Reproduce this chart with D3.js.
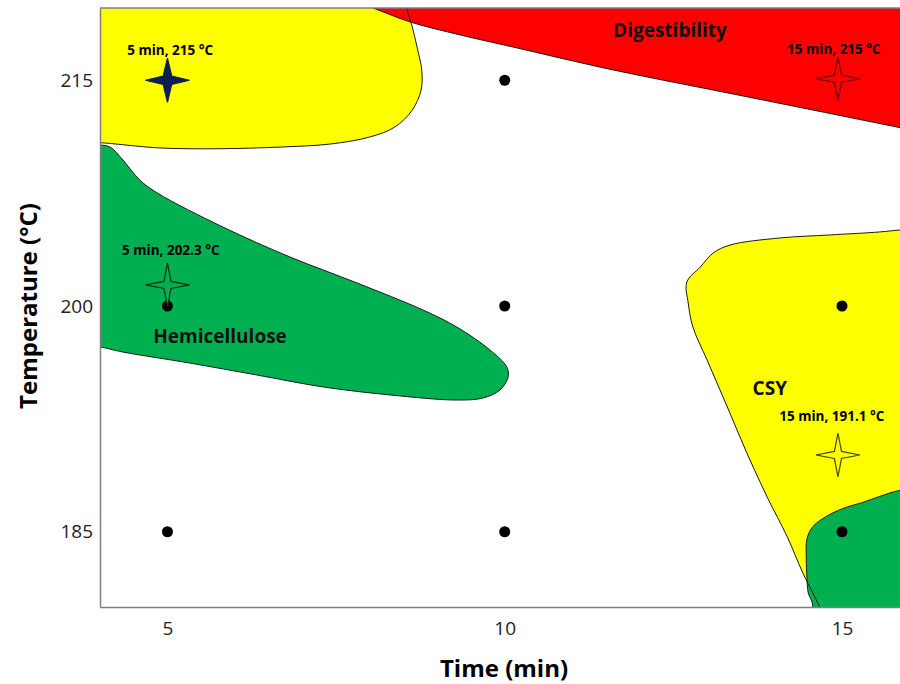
<!DOCTYPE html>
<html>
<head>
<meta charset="utf-8">
<script src="https://cdn.jsdelivr.net/npm/d3@7"></script>
<style>
  html, body { margin: 0; padding: 0; background: #fff; }
  svg { display: block; font-family: "Open Sans", "DejaVu Sans", sans-serif; }
</style>
</head>
<body>
<svg id="chart" width="900" height="684"></svg>
<script>
// ---------------- DATA ----------------
const xTicks = [5, 10, 15];
const yTicks = [185, 200, 215];
const xLabel = "Time (min)";
const yLabel = "Temperature (°C)";

// experimental design points [time, temperature]
const designPoints = [
  [10, 215], [5, 200], [10, 200], [15, 200], [5, 185], [10, 185], [15, 185]
];

// region outlines (time, temperature); points beyond the plot frame are clipped
const regionYellowTop = [
  [3.85, 221.0], [8.55, 221.0], [8.55, 219.8], [8.63, 218.54], [8.71, 217.01], [8.77, 215.68],
  [8.76, 214.35], [8.63, 213.02], [8.37, 211.89], [8.00, 211.23], [7.41, 210.76], [6.67, 210.56],
  [5.78, 210.45], [4.89, 210.50], [4.0, 210.85], [3.85, 210.85]
];
const regionDigestibility = [
  [7.34, 221.0], [8.05, 219.8], [8.60, 218.87], [9.34, 218.01], [10.12, 217.21], [11.61, 215.68],
  [13.09, 214.35], [14.57, 213.02], [15.86, 211.85], [16.30, 211.45], [16.30, 221.0]
];
const regionHemicellulose = [
  [3.85, 210.70], [4.0, 210.70], [4.15, 210.56], [4.34, 209.70], [4.59, 208.37], [4.85, 207.51],
  [5.82, 205.25], [6.82, 203.25], [7.81, 201.53], [8.79, 199.73], [9.29, 198.60], [9.78, 197.08],
  [10.03, 195.95], [10.05, 195.28], [9.93, 194.42], [9.68, 193.89], [9.29, 193.75], [8.30, 194.09],
  [7.31, 194.62], [6.33, 195.41], [5.33, 196.21], [4.34, 196.94], [4.0, 197.27], [3.85, 197.27]
];
const regionCSY = [
  [16.30, 205.18], [15.86, 205.05], [15.56, 204.92], [14.82, 204.72], [14.08, 204.52], [13.34, 204.05],
  [13.09, 203.52], [12.90, 202.59], [12.70, 201.59], [12.72, 200.20], [12.79, 198.60], [13.00, 196.41],
  [13.30, 193.29], [13.59, 190.23], [13.89, 187.31], [14.19, 184.65], [14.42, 182.26], [14.67, 180.0],
  [14.82, 178.47], [16.30, 178.47]
];
const regionGreenLow = [
  [16.30, 187.90], [15.86, 187.75], [15.56, 187.35], [15.31, 186.95], [15.08, 186.65], [14.82, 186.15],
  [14.57, 185.35], [14.48, 184.50], [14.47, 183.32], [14.48, 181.99], [14.50, 180.93], [14.56, 180.27],
  [14.60, 178.47], [16.30, 178.47]
];

// optimum stars: [time, temperature] as drawn
const stars = [
  { t: 5,  T: 215.0, fill: "#0d1f4f", stroke: "#0d1f4f", ri: 6 },
  { t: 14.94, T: 215.1, fill: "#ff0000", stroke: "#6a0000", ri: 5 },
  { t: 5,  T: 201.4, fill: "#00b050", stroke: "#0f300f", ri: 5 },
  { t: 14.94, T: 190.1, fill: "#ffff00", stroke: "#4a4500", ri: 5 }
];
// star annotation labels [text, time, temperature]
const starLabels = [
  ["5 min, 215 °C", 5.04, 216.68],
  ["15 min, 215 °C", 14.88, 216.74],
  ["5 min, 202.3 °C", 5.05, 203.39],
  ["15 min, 191.1 °C", 14.85, 192.36]
];
// region names [text, time, temperature]
const regionLabels = [
  ["Digestibility", 12.45, 217.87],
  ["Hemicellulose", 5.78, 197.54],
  ["CSY", 13.93, 194.09]
];

// ---------------- CHART ----------------
const W = 900, H = 684;
const margin = { top: 8, right: 0, bottom: 77, left: 100 };
const svg = d3.select("#chart");

const x = d3.scaleLinear().domain([4, 15.86]).range([margin.left, W - margin.right]);
const y = d3.scaleLinear().domain([180, 219.8]).range([H - margin.bottom, margin.top]);

svg.append("defs").append("clipPath").attr("id", "plotclip")
  .append("rect")
  .attr("x", margin.left).attr("y", margin.top)
  .attr("width", W - margin.left - margin.right)
  .attr("height", H - margin.top - margin.bottom);

const area = d3.line()
  .x(d => x(d[0])).y(d => y(d[1]))
  .curve(d3.curveCatmullRomClosed.alpha(0.5));

const regions = [
  { pts: regionYellowTop, fill: "#ffff00" },
  { pts: regionDigestibility, fill: "#ff0000" },
  { pts: regionHemicellulose, fill: "#00b050" },
  { pts: regionCSY, fill: "#ffff00" },
  { pts: regionGreenLow, fill: "#00b050" }
];

const plot = svg.append("g").attr("clip-path", "url(#plotclip)");
plot.selectAll("path.fill").data(regions).join("path")
  .attr("class", "fill")
  .attr("d", d => area(d.pts))
  .attr("fill", d => d.fill)
  .attr("stroke", "none");
plot.selectAll("path.edge").data(regions).join("path")
  .attr("class", "edge")
  .attr("d", d => area(d.pts))
  .attr("fill", "none")
  .attr("stroke", "#1a1a1a")
  .attr("stroke-width", 1);

// design points
plot.selectAll("circle.pt").data(designPoints).join("circle")
  .attr("class", "pt")
  .attr("cx", d => x(d[0])).attr("cy", d => y(d[1]))
  .attr("r", 5.5).attr("fill", "#000");

// stars
function starPath(R, ri) {
  const pts = [];
  for (let i = 0; i < 8; i++) {
    const a = -Math.PI / 2 + i * Math.PI / 4;
    const r = i % 2 === 0 ? R : ri;
    pts.push([Math.cos(a) * r, Math.sin(a) * r]);
  }
  return d3.line().curve(d3.curveLinearClosed)(pts);
}
svg.selectAll("path.star").data(stars).join("path")
  .attr("class", "star")
  .attr("transform", d => `translate(${x(d.t)},${y(d.T)})`)
  .attr("d", d => starPath(22, d.ri))
  .attr("fill", d => d.fill)
  .attr("stroke", d => d.stroke)
  .attr("stroke-width", 1.2)
  .attr("stroke-linejoin", "miter");

svg.selectAll("text.slab").data(starLabels).join("text")
  .attr("class", "slab")
  .attr("x", d => x(d[1])).attr("y", d => y(d[2]))
  .attr("text-anchor", "middle")
  .attr("font-size", 13.5).attr("font-weight", 700)
  .attr("fill", "#000")
  .text(d => d[0]);

svg.selectAll("text.rlab").data(regionLabels).join("text")
  .attr("class", "rlab")
  .attr("x", d => x(d[1])).attr("y", d => y(d[2]))
  .attr("text-anchor", "middle")
  .attr("font-size", 19).attr("font-weight", 700)
  .attr("fill", "#111")
  .text(d => d[0]);

// axes
const axisColor = "#7f7f7f";
const gx = svg.append("g")
  .attr("transform", `translate(0,${H - margin.bottom})`)
  .call(d3.axisBottom(x).tickValues(xTicks).tickSize(0).tickPadding(15).tickFormat(d3.format("d")));
const gy = svg.append("g")
  .attr("transform", `translate(${margin.left},0)`)
  .call(d3.axisLeft(y).tickValues(yTicks).tickSize(0).tickPadding(7).tickFormat(d3.format("d")));
[gx, gy].forEach(g => {
  g.select(".domain").attr("stroke", axisColor).attr("stroke-width", 1.5);
  g.selectAll("text").attr("font-size", 19).attr("fill", "#222")
    .attr("font-family", "'Open Sans', sans-serif");
});
// top frame line
svg.append("line")
  .attr("x1", margin.left).attr("x2", W - margin.right)
  .attr("y1", margin.top).attr("y2", margin.top)
  .attr("stroke", axisColor).attr("stroke-width", 1.5);

svg.append("text")
  .attr("x", 504).attr("y", 677)
  .attr("text-anchor", "middle")
  .attr("font-size", 24).attr("font-weight", 700).attr("fill", "#000")
  .text(xLabel);
svg.append("text")
  .attr("transform", `translate(37,306) rotate(-90)`)
  .attr("text-anchor", "middle")
  .attr("font-size", 24).attr("font-weight", 700).attr("fill", "#000")
  .text(yLabel);
</script>
</body>
</html>
